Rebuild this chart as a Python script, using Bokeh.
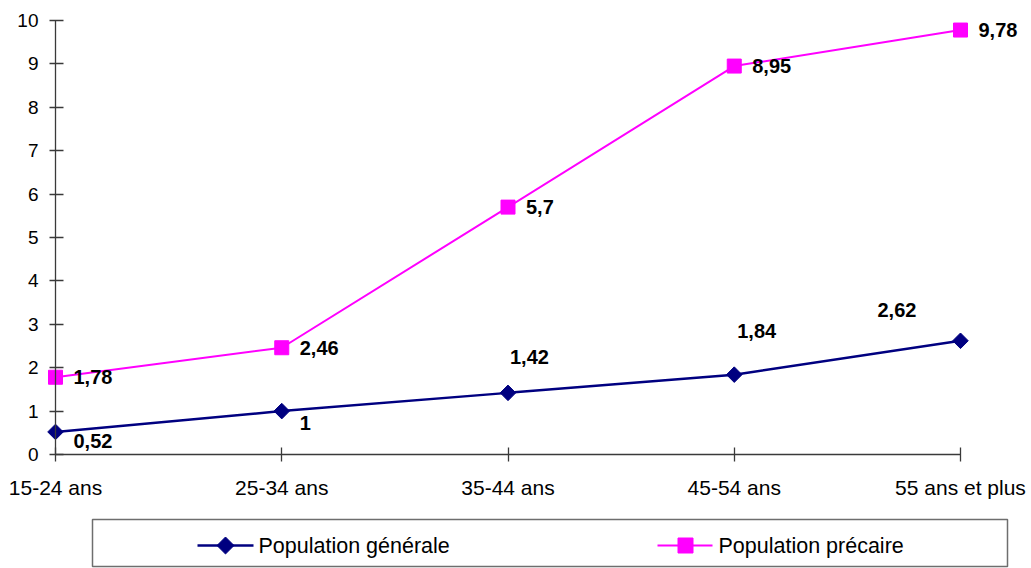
import math

from bokeh.core.properties import value
from bokeh.embed import file_html
from bokeh.layouts import column
from bokeh.models import ColumnDataSource, FixedTicker, LabelSet, Range1d
from bokeh.plotting import figure
from bokeh.resources import INLINE

# ---- data ---------------------------------------------------------------
categories = ["15-24 ans", "25-34 ans", "35-44 ans", "45-54 ans", "55 ans et plus"]
generale = [0.52, 1, 1.42, 1.84, 2.62]
precaire = [1.78, 2.46, 5.7, 8.95, 9.78]
y_ticks = [0, 1, 2, 3, 4, 5, 6, 7, 8, 9, 10]

series_names = ["Population générale", "Population précaire"]

# ---- styling ------------------------------------------------------------
NAVY = "#000080"
MAGENTA = "#FF00FF"
AXIS = "#3a3a3a"
FONT = "Liberation Sans"

# pixel nudges of the value labels (x to the right, y upward)
gen_dx = [18, 18, 2, 3, -83]
gen_dy = [-9, -12, 36, 44, 31]
pre_dx = [18, 18, 18, 18, 18]
pre_dy = [0, 0, 0, 0, 0]

# ---- page geometry (pixels) ---------------------------------------------
W = 1031
MAIN_H = 512
LEG_H = 56
FRAME_L = 6             # left edge of the drawing area
FRAME_B = 8             # space under the drawing area
AX_X0, AX_X1 = 55, 960  # where the first / last category sit
AX_Y0, AX_Y10 = 454, 20  # where 0 and 10 sit on the value axis

n = len(categories)
px_per_x = (AX_X1 - AX_X0) / (n - 1)
x_lo = -(AX_X0 - FRAME_L) / px_per_x
x_hi = (n - 1) + (W - AX_X1) / px_per_x
px_per_y = (AX_Y0 - AX_Y10) / 10
y_hi = AX_Y0 / px_per_y
y_lo = -((MAIN_H - FRAME_B) - AX_Y0) / px_per_y


def fr(v):
    return f"{v:g}".replace(".", ",")


xs = list(range(n))

p = figure(
    width=W, height=MAIN_H,
    x_range=Range1d(x_lo, x_hi),
    y_range=Range1d(y_lo, y_hi),
    output_backend="svg", toolbar_location=None,
    min_border_left=FRAME_L, min_border_right=0,
    min_border_top=0, min_border_bottom=FRAME_B,
)
p.outline_line_color = None
p.xgrid.visible = False
p.ygrid.visible = False

tick_font = dict(text_font=value(FONT), text_color="black")

# y axis, pinned at the first category; its numbers are drawn as labels
p.yaxis.fixed_location = 0
p.yaxis.bounds = (0, 10)
p.yaxis.ticker = FixedTicker(ticks=y_ticks, minor_ticks=[])
p.yaxis.major_label_overrides = {t: "" for t in y_ticks}
p.yaxis.major_label_standoff = 0
p.yaxis.major_tick_in = 8
p.yaxis.major_tick_out = 6
p.yaxis.minor_tick_line_color = None
p.yaxis.axis_line_color = AXIS
p.yaxis.major_tick_line_color = AXIS
p.yaxis.axis_line_width = 1.3
p.yaxis.major_tick_line_width = 1.3

y_lab_src = ColumnDataSource(dict(
    x=[0] * len(y_ticks), y=y_ticks, txt=[str(t) for t in y_ticks]))
p.add_layout(LabelSet(
    x="x", y="y", text="txt", source=y_lab_src, x_offset=-17,
    text_font_size="19px", text_align="right", text_baseline="middle",
    **tick_font,
))

# x axis, pinned at zero; category names drawn as labels
p.xaxis.fixed_location = 0
p.xaxis.bounds = (0, n - 1)
p.xaxis.ticker = FixedTicker(ticks=xs, minor_ticks=[])
p.xaxis.major_label_overrides = {i: "" for i in xs}
p.xaxis.major_label_standoff = 0
p.xaxis.major_tick_in = 7
p.xaxis.major_tick_out = 7
p.xaxis.minor_tick_line_color = None
p.xaxis.axis_line_color = AXIS
p.xaxis.major_tick_line_color = AXIS
p.xaxis.axis_line_width = 1.3
p.xaxis.major_tick_line_width = 1.3

x_lab_src = ColumnDataSource(dict(
    x=xs, y=[0] * n, txt=categories))
p.add_layout(LabelSet(
    x="x", y="y", text="txt", source=x_lab_src, y_offset=-21,
    text_font_size="21px", text_align="center", text_baseline="top",
    **tick_font,
))

# series
src_gen = ColumnDataSource(dict(
    x=xs, y=generale, txt=[fr(v) for v in generale], dx=gen_dx, dy=gen_dy))
src_pre = ColumnDataSource(dict(
    x=xs, y=precaire, txt=[fr(v) for v in precaire], dx=pre_dx, dy=pre_dy))

p.line("x", "y", source=src_pre, line_color=MAGENTA, line_width=2)
p.scatter("x", "y", source=src_pre, marker="square", size=14,
          fill_color=MAGENTA, line_color=MAGENTA)

p.line("x", "y", source=src_gen, line_color=NAVY, line_width=2.5)
p.scatter("x", "y", source=src_gen, marker="square", angle=math.pi / 4, size=11,
          fill_color=NAVY, line_color=NAVY)

for src in (src_gen, src_pre):
    p.add_layout(LabelSet(
        x="x", y="y", text="txt", source=src,
        x_offset="dx", y_offset="dy",
        text_font=value(FONT), text_font_style="bold",
        text_font_size="20px", text_color="black",
        text_align="left", text_baseline="middle",
    ))

# ---- legend strip (coordinates are page pixels) ---------------------------
leg = figure(
    width=W, height=LEG_H,
    x_range=Range1d(FRAME_L, W), y_range=Range1d(LEG_H, 0),
    x_axis_type=None, y_axis_type=None,
    output_backend="svg", toolbar_location=None,
    min_border_left=FRAME_L, min_border_right=0,
    min_border_top=0, min_border_bottom=0,
)
leg.outline_line_color = None

leg.quad(left=[92], right=[1007], top=[7], bottom=[54],
         fill_color=None, line_color="#6e6e6e", line_width=1.5)

leg_colors = [NAVY, MAGENTA]
leg_line_x0 = [197, 657]
leg_line_x1 = [253, 712]
leg_mark_x = [225, 685]
leg_text_x = [258, 718]
leg_y = 33

leg.segment(x0=leg_line_x0, y0=[leg_y] * 2, x1=leg_line_x1, y1=[leg_y] * 2,
            line_color=leg_colors, line_width=[2.5, 2])
leg.scatter(x=[leg_mark_x[0]], y=[leg_y], marker="square", angle=math.pi / 4,
            size=12, fill_color=NAVY, line_color=NAVY)
leg.scatter(x=[leg_mark_x[1]], y=[leg_y], marker="square", size=15,
            fill_color=MAGENTA, line_color=MAGENTA)
leg.text(x=leg_text_x, y=[leg_y] * 2, text=series_names,
         text_font=value(FONT), text_font_size="21.5px", text_color="black",
         text_align="left", text_baseline="middle")

layout = column(p, leg, spacing=0)

open("out.html", "w").write(file_html(layout, INLINE))
